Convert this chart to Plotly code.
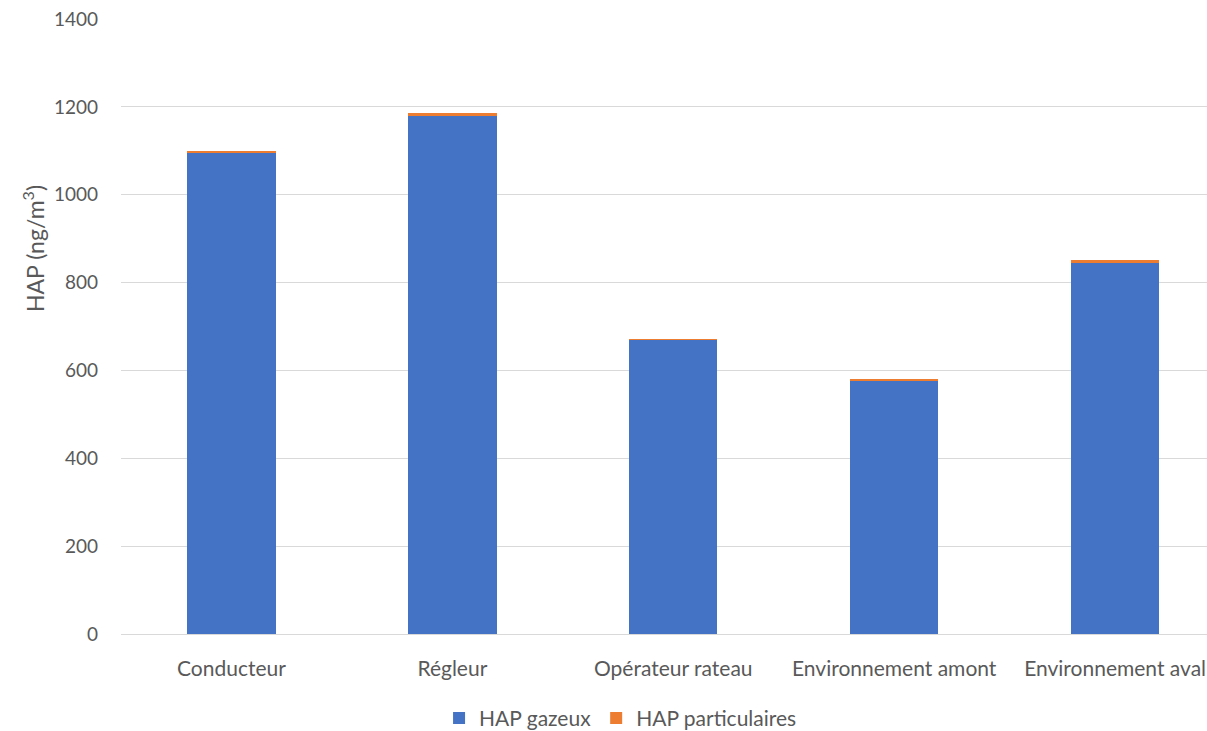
import plotly.graph_objects as go

categories = ["Conducteur", "Régleur", "Opérateur rateau", "Environnement amont", "Environnement aval"]
hap_gazeux = [1094, 1180, 670, 578, 845]
hap_particulaires = [5, 6, 1.5, 2.5, 7]
y_ticks = [0, 200, 400, 600, 800, 1000, 1200, 1400]

FONT = "Lato, Carlito, Calibri, sans-serif"
GREY = "#595959"

fig = go.Figure()
fig.add_trace(go.Bar(x=categories, y=hap_gazeux, name="HAP gazeux",
                     marker=dict(color="#4472C4", line=dict(width=0))))
fig.add_trace(go.Bar(x=categories, y=hap_particulaires, name="HAP particulaires",
                     marker=dict(color="#ED7D31", line=dict(width=0))))

fig.add_annotation(text="HAP (ng/m<sup>3</sup>)", textangle=-90,
                   xref="paper", yref="paper", x=-0.081, y=0.626,
                   xanchor="center", yanchor="middle", showarrow=False,
                   font=dict(size=23, color=GREY, family=FONT))

fig.update_layout(
    width=1207, height=731,
    barmode="stack", bargap=0.6,
    paper_bgcolor="white", plot_bgcolor="white",
    margin=dict(l=121, r=0, t=19, b=97, autoexpand=False),
    font=dict(family=FONT, color=GREY, size=19),
    legend=dict(orientation="h", x=0.46, xanchor="center", y=-0.137, yanchor="middle",
                font=dict(size=21, color=GREY), itemsizing="constant",
                traceorder="normal", itemwidth=30),
    xaxis=dict(range=[-0.5, 4.416], tickangle=0, showgrid=False,
               showline=False, zeroline=False, ticks="",
               tickfont=dict(size=21, color=GREY), ticklabelstandoff=20),
    yaxis=dict(range=[0, 1400], tickvals=y_ticks, showgrid=True, gridcolor="#D9D9D9",
               gridwidth=1, zeroline=True, zerolinecolor="#D9D9D9", zerolinewidth=1,
               showline=False, ticks="", tickfont=dict(size=19, color=GREY),
               ticklabelstandoff=22),
)

fig.write_html("out.html", config={"displayModeBar": False},
               post_script="document.body.style.margin='0';")
